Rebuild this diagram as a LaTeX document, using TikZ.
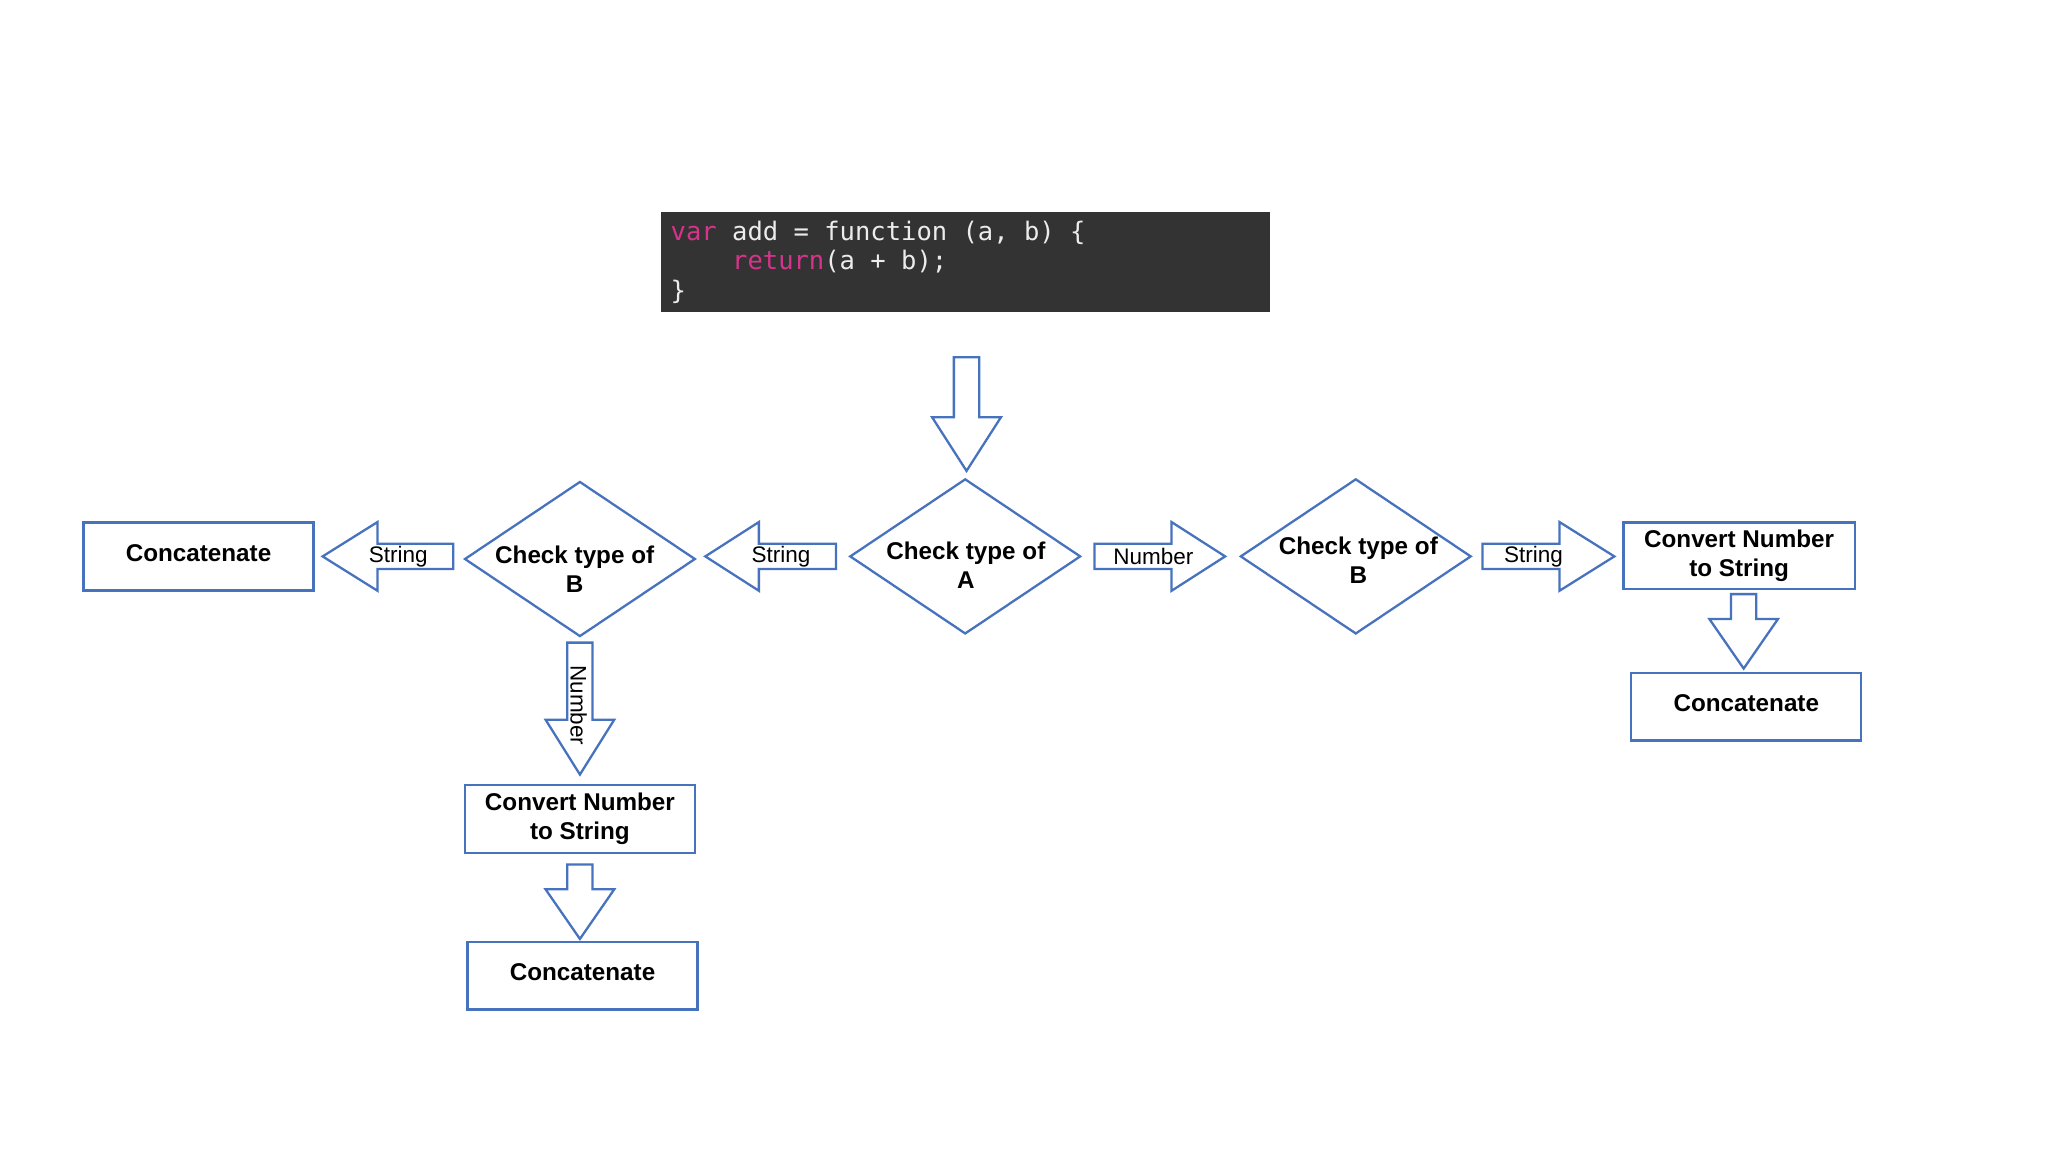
\documentclass[tikz,border=0pt]{standalone}
\usepackage{fontspec}
\setmainfont{Liberation Sans}
\newfontfamily\codefont{DejaVu Sans Mono}
\usetikzlibrary{shapes.geometric,calc}
\definecolor{flow}{RGB}{70,114,190}
\definecolor{codebg}{RGB}{51,51,51}
\definecolor{codefg}{RGB}{236,236,236}
\definecolor{kw}{RGB}{214,51,140}
\def\uu{0.01306cm}
\newcommand\blockarrow[4]{%
  \draw[blk, shift={(#1)}, rotate=#2] (0,-9.7) -- (#3-#4,-9.7) -- (#3-#4,-26.3) -- (#3,0)
    -- (#3-#4,26.3) -- (#3-#4,9.7) -- (0,9.7) -- cycle;}
\begin{document}
\begin{tikzpicture}[x=\uu, y=-\uu,
  box/.style={draw=flow, line width=0.65pt, rectangle, inner sep=0pt,
    minimum width=176*\uu, minimum height=52*\uu, align=center,
    font=\bfseries\fontsize{6.9}{8.2}\selectfont},
  catbox/.style={box, text depth=2.2pt},
  dia/.style={draw=flow, line width=0.65pt, diamond, inner sep=0pt, outer sep=0pt,
    minimum width=176*\uu, minimum height=118*\uu},
  lbl/.style={font=\bfseries\fontsize{6.9}{8.2}\selectfont, align=center, inner sep=0pt},
  albl/.style={font=\fontsize{6.4}{7.7}\selectfont, inner sep=0pt},
  codetxt/.style={font=\codefont\fontsize{7.26}{8.2}\selectfont, text=codefg, inner sep=0pt, anchor=base west},
  blk/.style={draw=flow, line width=0.65pt, line join=miter}]
\fill[white] (0,0) rectangle (1568,882);
\useasboundingbox (0,0) rectangle (1568,882);

% code block
\node[fill=codebg, minimum width=466*\uu, minimum height=77*\uu, inner sep=0pt] (code) at (739,200.5) {};
\node[codetxt] (c1) at (513,184) {\textcolor{kw}{var} add = function (a, b) \{};
\node[codetxt] (c2) at (513,206.5) {\hphantom{xxxx}\textcolor{kw}{return}(a + b);};
\node[codetxt] (c3) at (513,229) {\}};

% decision diamonds
\node[dia] (dA) at (739,426) {};
\node[lbl] (dAt) at ($(dA)+(0.5,7)$) {Check type of\\A};
\node[dia] (dB) at (1038,426) {};
\node[lbl] (dBt) at ($(dB)+(2,3)$) {Check type of\\B};
\node[dia] (dBL) at (444,428) {};
\node[lbl] (dBLt) at ($(dBL)+(-4,7.5)$) {Check type of\\B};

% boxes
\node[box, minimum width=177*\uu, minimum height=51*\uu] (convR) at (1331.5,425.5) {Convert Number\\to String};
\node[catbox] (catR) at (1337,541) {Concatenate};
\node[catbox] (catL) at (152,426) {Concatenate};
\node[box] (convB) at (444,627) {Convert Number\\to String};
\node[catbox] (catB) at (446,747) {Concatenate};

% block arrows
\blockarrow{$(code.south)+(1,34)$}{-90}{87}{41}
\blockarrow{$(dA.east)+(11,0)$}{0}{100}{41}
\node[albl] (lNum) at ($(dA.east)+(56,0)$) {Number};
\blockarrow{$(dB.east)+(9,0)$}{0}{101}{42}
\node[albl] (lStrR) at ($(dB.east)+(48,0)$) {String};
\blockarrow{$(convR.south)+(3.5,3)$}{-90}{57}{38}
\blockarrow{$(dA.west)+(-11,0)$}{180}{100}{41}
\node[albl] (lStrM) at ($(dA.west)+(-53,0)$) {String};
\blockarrow{$(dBL.west)+(-9,-2)$}{180}{100}{42}
\node[albl] (lStrL) at ($(dBL.west)+(-51,-2)$) {String};
\blockarrow{$(dBL.south)+(0,5)$}{-90}{101}{42}
\node[albl, rotate=-90] (lNumB) at ($(dBL.south)+(-1,53)$) {Number};
\blockarrow{$(convB.south)+(0,8)$}{-90}{57}{38}
\end{tikzpicture}
\end{document}
